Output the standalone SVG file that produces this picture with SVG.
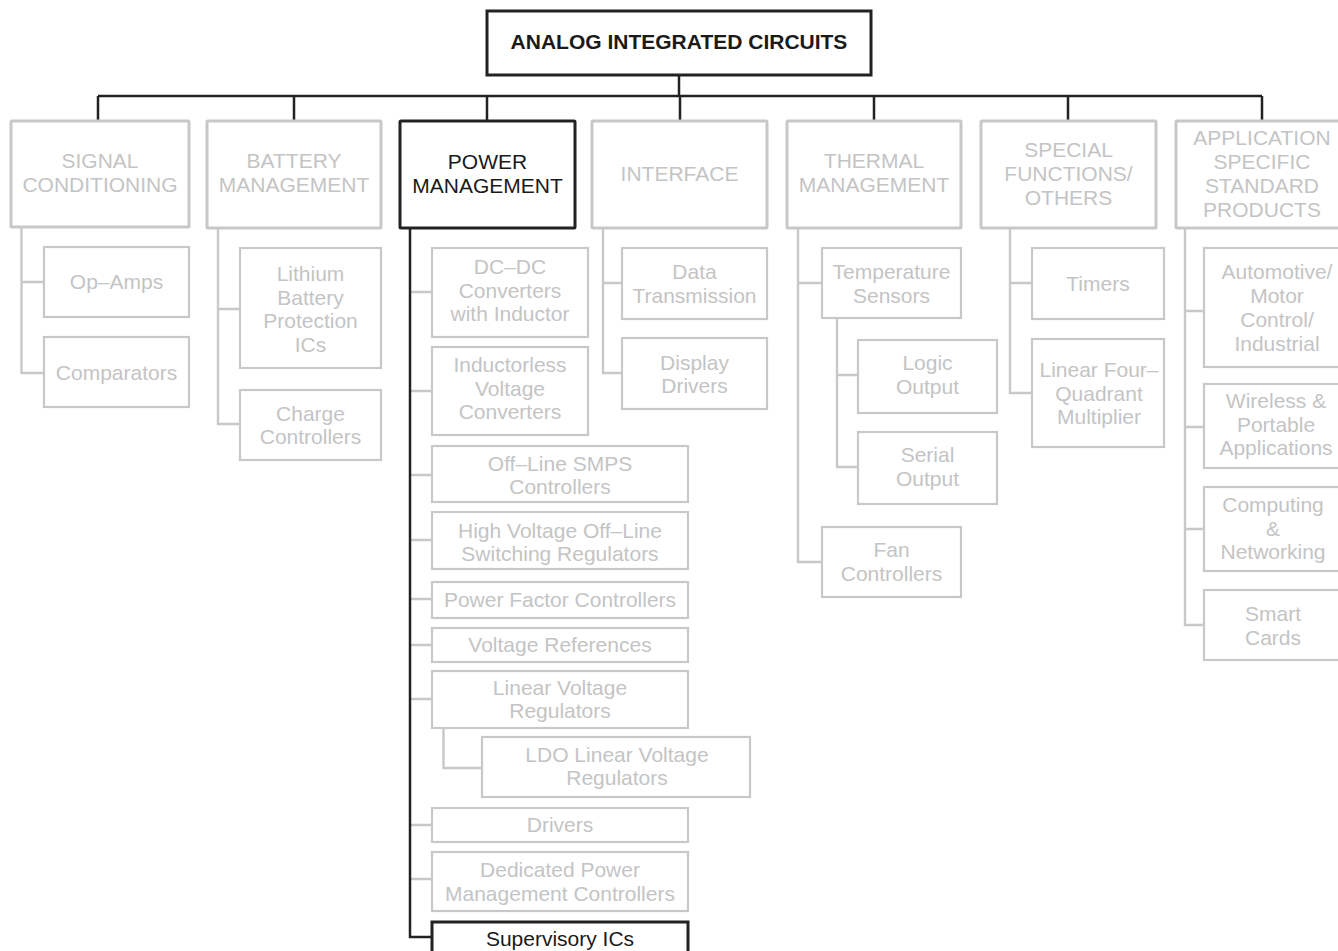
<svg xmlns="http://www.w3.org/2000/svg" width="1338" height="951" viewBox="0 0 1338 951">
<style>
.g{fill:#fff;stroke:#c8c8c8;stroke-width:2.2}
.gc{fill:#fff;stroke:#c8c8c8;stroke-width:3}
.k{fill:#fff;stroke:#222;stroke-width:3}
.kl{fill:none;stroke:#222;stroke-width:2.5}
.gl{fill:none;stroke:#c8c8c8;stroke-width:2.4}
text{font-family:"Liberation Sans",Arial,Helvetica,sans-serif;font-size:21px;text-anchor:middle}
.tg{fill:#c4c4c4}
.tk{fill:#1a1a1a}
.tb{fill:#1a1a1a;font-weight:bold}
</style>
<g id="connectors">
<path class="gl" d="M411 292H432M411 391H432M411 475H432M411 540H432M411 599H432M411 645H432M411 699H432M411 825H432M411 879H432"/>
<path class="kl" d="M679 75V96M98 96H1262M98 96V121M294 96V121M487 96V121M680 96V121M874 96V121M1068 96V121M1262 96V121"/>
<path class="kl" d="M410 228V937H432"/>
<path class="gl" d="M443.5 728V768H482"/>
<path class="gl" d="M21.5 227V373H44M21.5 282H44"/>
<path class="gl" d="M218 228V424H240M218 309H240"/>
<path class="gl" d="M603 228V373H622M603 283H622"/>
<path class="gl" d="M798 228V562H822M798 283H822"/>
<path class="gl" d="M837 318V467H858M837 375H858"/>
<path class="gl" d="M1010 228V393H1032M1010 283H1032"/>
<path class="gl" d="M1185 228V625H1204M1185 311H1204M1185 427H1204M1185 529H1204"/>
</g>
<g id="root"><rect class="k" x="487" y="11" width="384" height="64"/><text class="tb" x="679" y="49">ANALOG INTEGRATED CIRCUITS</text></g>
<g id="signal"><rect class="gc" x="11" y="121" width="178" height="106" rx="1"/><text class="tg" x="100" y="168">SIGNAL</text><text class="tg" x="100" y="192">CONDITIONING</text></g>
<g id="opamps"><rect class="g" x="44" y="247" width="145" height="70"/><text class="tg" x="116.5" y="289">Op–Amps</text></g>
<g id="comparators"><rect class="g" x="44" y="337" width="145" height="70"/><text class="tg" x="116.5" y="380">Comparators</text></g>
<g id="battery"><rect class="gc" x="207" y="121" width="174" height="107" rx="1"/><text class="tg" x="294" y="168">BATTERY</text><text class="tg" x="294" y="192">MANAGEMENT</text></g>
<g id="lithium"><rect class="g" x="240" y="248" width="141" height="120"/><text class="tg" x="310.5" y="281">Lithium</text><text class="tg" x="310.5" y="304.5">Battery</text><text class="tg" x="310.5" y="328">Protection</text><text class="tg" x="310.5" y="351.5">ICs</text></g>
<g id="charge"><rect class="g" x="240" y="390" width="141" height="70"/><text class="tg" x="310.5" y="421">Charge</text><text class="tg" x="310.5" y="444">Controllers</text></g>
<g id="power"><rect class="k" x="400" y="121" width="175" height="107" rx="1"/><text class="tk" x="487.5" y="169">POWER</text><text class="tk" x="487.5" y="193">MANAGEMENT</text></g>
<g id="dcdc"><rect class="g" x="432" y="248" width="156" height="89"/><text class="tg" x="510" y="273.5">DC–DC</text><text class="tg" x="510" y="297.5">Converters</text><text class="tg" x="510" y="320.5">with Inductor</text></g>
<g id="inductorless"><rect class="g" x="432" y="347" width="156" height="88"/><text class="tg" x="510" y="372">Inductorless</text><text class="tg" x="510" y="395.5">Voltage</text><text class="tg" x="510" y="419">Converters</text></g>
<g id="smps"><rect class="g" x="432" y="446" width="256" height="56"/><text class="tg" x="560" y="471">Off–Line SMPS</text><text class="tg" x="560" y="494">Controllers</text></g>
<g id="hv"><rect class="g" x="432" y="512" width="256" height="57"/><text class="tg" x="560" y="537.5">High Voltage Off–Line</text><text class="tg" x="560" y="560.5">Switching Regulators</text></g>
<g id="pfc"><rect class="g" x="432" y="582" width="256" height="36"/><text class="tg" x="560" y="607">Power Factor Controllers</text></g>
<g id="vref"><rect class="g" x="432" y="628" width="256" height="34"/><text class="tg" x="560" y="652">Voltage References</text></g>
<g id="linreg"><rect class="g" x="432" y="671" width="256" height="57"/><text class="tg" x="560" y="695">Linear Voltage</text><text class="tg" x="560" y="718">Regulators</text></g>
<g id="ldo"><rect class="g" x="482" y="737" width="268" height="60"/><text class="tg" x="617" y="762">LDO Linear Voltage</text><text class="tg" x="617" y="785">Regulators</text></g>
<g id="drivers"><rect class="g" x="432" y="808" width="256" height="34"/><text class="tg" x="560" y="832">Drivers</text></g>
<g id="dedicated"><rect class="g" x="432" y="852" width="256" height="59"/><text class="tg" x="560" y="877">Dedicated Power</text><text class="tg" x="560" y="900.5">Management Controllers</text></g>
<g id="supervisory"><rect class="k" x="432" y="922" width="256" height="40"/><text class="tk" x="560" y="946">Supervisory ICs</text></g>
<g id="interface"><rect class="gc" x="592" y="121" width="175" height="107" rx="1"/><text class="tg" x="679.5" y="181">INTERFACE</text></g>
<g id="datatx"><rect class="g" x="622" y="248" width="145" height="71"/><text class="tg" x="694.5" y="279">Data</text><text class="tg" x="694.5" y="302.5">Transmission</text></g>
<g id="display"><rect class="g" x="622" y="338" width="145" height="71"/><text class="tg" x="694.5" y="370">Display</text><text class="tg" x="694.5" y="393">Drivers</text></g>
<g id="thermal"><rect class="gc" x="787" y="121" width="174" height="107" rx="1"/><text class="tg" x="874" y="168">THERMAL</text><text class="tg" x="874" y="192">MANAGEMENT</text></g>
<g id="temp"><rect class="g" x="822" y="248" width="139" height="70"/><text class="tg" x="891.5" y="279">Temperature</text><text class="tg" x="891.5" y="302.5">Sensors</text></g>
<g id="logic"><rect class="g" x="858" y="340" width="139" height="73"/><text class="tg" x="927.5" y="370">Logic</text><text class="tg" x="927.5" y="393.5">Output</text></g>
<g id="serial"><rect class="g" x="858" y="432" width="139" height="72"/><text class="tg" x="927.5" y="462">Serial</text><text class="tg" x="927.5" y="485.5">Output</text></g>
<g id="fan"><rect class="g" x="822" y="527" width="139" height="70"/><text class="tg" x="891.5" y="557">Fan</text><text class="tg" x="891.5" y="580.5">Controllers</text></g>
<g id="special"><rect class="gc" x="981" y="121" width="175" height="107" rx="1"/><text class="tg" x="1068.5" y="157">SPECIAL</text><text class="tg" x="1068.5" y="181">FUNCTIONS/</text><text class="tg" x="1068.5" y="205">OTHERS</text></g>
<g id="timers"><rect class="g" x="1032" y="248" width="132" height="71"/><text class="tg" x="1098" y="291">Timers</text></g>
<g id="multiplier"><rect class="g" x="1032" y="339" width="132" height="108"/><text class="tg" x="1099" y="377">Linear Four–</text><text class="tg" x="1099" y="400.5">Quadrant</text><text class="tg" x="1099" y="424">Multiplier</text></g>
<g id="assp"><rect class="gc" x="1176" y="121" width="180" height="107" rx="1"/><text class="tg" x="1262" y="145">APPLICATION</text><text class="tg" x="1262" y="169">SPECIFIC</text><text class="tg" x="1262" y="193">STANDARD</text><text class="tg" x="1262" y="217">PRODUCTS</text></g>
<g id="automotive"><rect class="g" x="1204" y="248" width="156" height="119"/><text class="tg" x="1277" y="279">Automotive/</text><text class="tg" x="1277" y="303">Motor</text><text class="tg" x="1277" y="327">Control/</text><text class="tg" x="1277" y="350.5">Industrial</text></g>
<g id="wireless"><rect class="g" x="1204" y="384" width="156" height="84"/><text class="tg" x="1276" y="408">Wireless &amp;</text><text class="tg" x="1276" y="432">Portable</text><text class="tg" x="1276" y="455">Applications</text></g>
<g id="computing"><rect class="g" x="1204" y="487" width="156" height="84"/><text class="tg" x="1273" y="512">Computing</text><text class="tg" x="1273" y="536">&amp;</text><text class="tg" x="1273" y="559">Networking</text></g>
<g id="smartcards"><rect class="g" x="1204" y="590" width="156" height="70"/><text class="tg" x="1273" y="621">Smart</text><text class="tg" x="1273" y="645">Cards</text></g>
</svg>
